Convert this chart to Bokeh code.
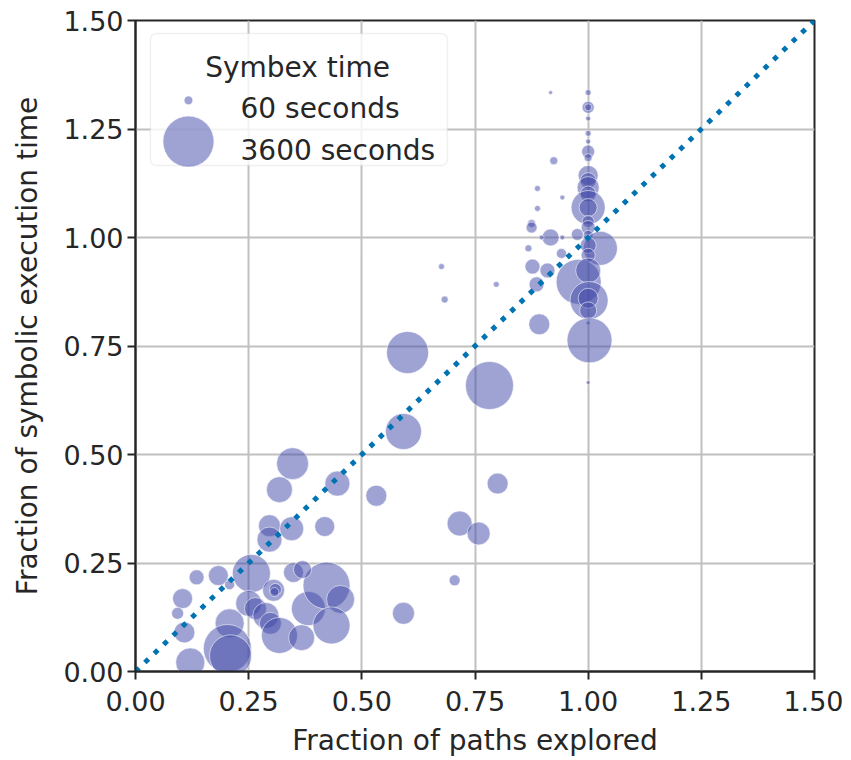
from bokeh.plotting import figure
from bokeh.models import Range1d, FixedTicker, PrintfTickFormatter, BoxAnnotation, ColumnDataSource
from bokeh.core.properties import value
from bokeh.embed import file_html
from bokeh.resources import INLINE
import numpy as np

# ---------------- data ----------------
paths_frac = [
    0.347, 0.318, 0.446, 0.532, 0.296, 0.345, 0.296, 0.418, 0.256, 0.135,
    0.183, 0.208, 0.104, 0.093, 0.108, 0.121, 0.208, 0.203, 0.210, 0.305,
    0.309, 0.307, 0.250, 0.265, 0.288, 0.298, 0.318, 0.367, 0.382, 0.422,
    0.453, 0.433, 0.349, 0.369, 0.592,
    0.601, 0.782, 0.592, 0.892, 0.683, 0.800, 0.716, 0.758, 0.705, 0.676,
    0.917, 1.000, 1.000, 1.000, 1.000, 1.000, 1.000, 1.000, 1.000, 0.924,
    1.000, 1.000, 1.000, 1.000, 1.000, 1.000, 0.888, 0.943, 0.888, 0.875,
    0.875, 1.000, 1.000, 0.917, 0.943, 0.976, 1.000, 1.027, 1.000, 1.000,
    0.868, 0.941, 0.877, 0.910, 0.886, 0.797, 0.979, 1.000, 1.002, 1.000,
    1.000, 1.000, 1.003, 1.000, 0.897,
]
time_frac = [
    0.479, 0.419, 0.433, 0.405, 0.336, 0.329, 0.304, 0.334, 0.226, 0.217,
    0.221, 0.200, 0.168, 0.134, 0.090, 0.021, 0.111, 0.053, 0.036, 0.187,
    0.189, 0.183, 0.157, 0.145, 0.129, 0.111, 0.083, 0.078, 0.145, 0.198,
    0.166, 0.106, 0.228, 0.235, 0.134,
    0.735, 0.659, 0.553, 0.800, 0.857, 0.433, 0.341, 0.318, 0.210, 0.933,
    1.334, 1.334, 1.300, 1.300, 1.274, 1.240, 1.221, 1.198, 1.184, 1.177,
    1.143, 1.131, 1.115, 1.100, 1.069, 1.069, 1.113, 1.092, 1.067, 1.032,
    1.023, 1.037, 1.023, 1.000, 1.000, 1.007, 1.005, 0.975, 0.982, 0.959,
    0.975, 0.963, 0.933, 0.924, 0.892, 0.892, 0.898, 0.924, 0.855, 0.860,
    0.832, 0.803, 0.763, 0.666, 1.000,
]
symbex_secs = [
    1333, 847, 776, 526, 584, 709, 776, 471, 1928, 241,
    471, 87, 471, 140, 526, 1076, 1076, 3165, 2386, 584,
    140, 66, 847, 584, 847, 584, 1718, 847, 1519, 3028,
    997, 1822, 471, 370, 584,
    2386, 3165, 1718, 526, 32, 526, 776, 645, 112, 19,
    4, 19, 140, 32, 10, 19, 10, 170, 47, 47,
    471, 281, 584, 281, 1519, 370, 19, 10, 19, 47,
    112, 140, 204, 324, 10, 140, 87, 1519, 281, 204,
    32, 87, 241, 241, 241, 19, 2762, 776, 1928, 471,
    324, 4, 2762, 4, 10,
]

tick_values = [0.0, 0.25, 0.5, 0.75, 1.0, 1.25, 1.5]
diag_x = [0.0, 1.5]
diag_y = [0.0, 1.5]

legend_title = "Symbex time"
legend_secs = [60, 3600]
legend_labels = ["60 seconds", "3600 seconds"]


def diameter(t):
    return 0.81 * np.sqrt(np.asarray(t, dtype=float)) + 2.43


FONT = value("DejaVu Sans")
TXT = "#262626"
BUBBLE = "#4048a8"

p = figure(frame_width=679, frame_height=651,
           x_range=Range1d(0, 1.5), y_range=Range1d(0, 1.5),
           output_backend="svg", toolbar_location=None,
           min_border_left=135, min_border_right=29,
           min_border_top=20, min_border_bottom=89,
           background_fill_color="white", border_fill_color="white")

p.outline_line_color = TXT
p.outline_line_width = 2

for ax in (p.xaxis[0], p.yaxis[0]):
    ax.ticker = FixedTicker(ticks=tick_values)
    ax.formatter = PrintfTickFormatter(format="%.2f")
    ax.major_label_text_font = "DejaVu Sans"
    ax.major_label_text_font_size = "27px"
    ax.major_label_text_color = TXT
    ax.axis_label_text_font = "DejaVu Sans"
    ax.axis_label_text_font_size = "28px"
    ax.axis_label_text_font_style = "normal"
    ax.axis_label_text_color = TXT
    ax.axis_line_color = TXT
    ax.axis_line_width = 2
    ax.major_tick_line_color = TXT
    ax.major_tick_line_width = 2
    ax.major_tick_out = 8
    ax.major_tick_in = 0
    ax.minor_tick_line_color = None

p.xaxis.axis_label = "Fraction of paths explored"
p.yaxis.axis_label = "Fraction of symbolic execution time"
p.xaxis.major_label_standoff = 11
p.xaxis.axis_label_standoff = 10
p.yaxis.major_label_standoff = 4
p.yaxis.axis_label_standoff = 16

p.grid.grid_line_color = "#c0c0c0"
p.grid.grid_line_width = 2

src = ColumnDataSource(data=dict(x=paths_frac, y=time_frac,
                                 s=diameter(symbex_secs)))
p.scatter("x", "y", size="s", source=src, fill_color=BUBBLE, fill_alpha=0.5,
          line_color="white", line_alpha=0.55, line_width=1)

p.line(diag_x, diag_y, line_color="#0173b2", line_width=5,
       line_dash="5 8", line_cap="butt")

# ---------------- legend (drawn by hand, positions in frame layout) ----------------
box = BoxAnnotation(left=0.033, right=0.689, bottom=1.166, top=1.470,
                    fill_color="white", fill_alpha=0.8,
                    line_color="#cccccc", line_width=1.5, border_radius=6)
p.add_layout(box)

leg_marker_x = [0.117, 0.117]
leg_marker_y = [1.316, 1.221]
r_m = p.scatter(leg_marker_x, leg_marker_y, size=diameter(legend_secs),
                fill_color=BUBBLE, fill_alpha=0.5, line_color="white",
                line_alpha=0.55, line_width=1)
r_m.level = "overlay"

r_t = p.text(x=[0.232, 0.232], y=[1.297, 1.200], text=legend_labels,
             text_font=FONT, text_font_size="28px", text_color=TXT,
             text_align="left", text_baseline="alphabetic")
r_t.level = "overlay"
r_h = p.text(x=[0.358], y=[1.392], text=[legend_title],
             text_font=FONT, text_font_size="28px", text_color=TXT,
             text_align="center", text_baseline="alphabetic")
r_h.level = "overlay"

open("out.html", "w").write(file_html(p, INLINE))
